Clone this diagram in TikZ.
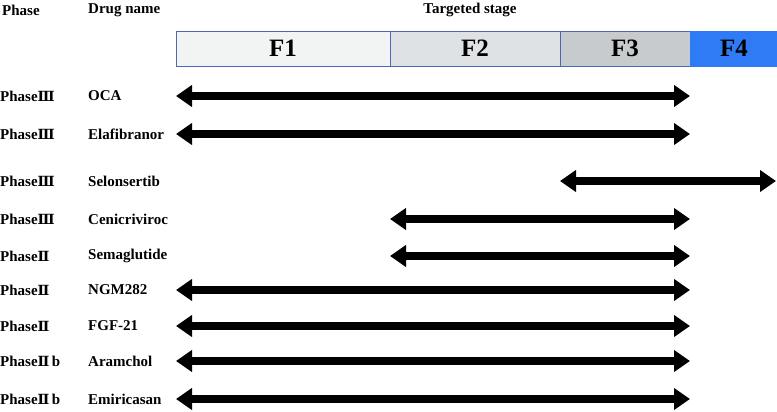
\documentclass[tikz,border=0pt]{standalone}
\usepackage{fontspec}
\setmainfont{Liberation Serif}
\newfontfamily\numfont{DejaVu Serif}
\usetikzlibrary{arrows.meta,positioning}
\definecolor{sOne}{HTML}{F2F3F3}
\definecolor{sTwo}{HTML}{DFE2E4}
\definecolor{sThree}{HTML}{C8CBCD}
\definecolor{sFour}{HTML}{2F7BF5}
\definecolor{sEdge}{HTML}{4A67B8}
\tikzset{stage/.style={draw=sEdge, line width=0.8pt, minimum height=35pt,
  inner sep=0pt, font=\fontsize{25}{27}\selectfont\bfseries}}
\tikzset{lbl/.style={anchor=west, inner sep=0pt, font=\fontsize{15}{17}\selectfont\bfseries}}
\tikzset{span/.style={line width=8pt, {Triangle[length=16pt,width=21pt]}-{Triangle[length=16pt,width=21pt]}}}
\newcommand{\three}{{\numfont\fontsize{14}{15}\selectfont Ⅲ}}
\newcommand{\two}{{\numfont\fontsize{14}{15}\selectfont Ⅱ}}
\begin{document}
\begin{tikzpicture}[x=1pt,y=-1pt]
    \useasboundingbox (0,0) rectangle (777,412);
    %% header
    \node (hp) at (2,10) [lbl] {Phase};
    \node (hd) at (88,10) [lbl] {Drug name};
    \node (ht) at (470,10) [lbl, anchor=center] {Targeted stage};
    \node (F1) at (283,48.5) [stage, fill=sOne, minimum width=214pt] {F1};
    \node (F2) at (475,48.5) [stage, fill=sTwo, minimum width=170pt] {F2};
    \node (F3) at (625,48.5) [stage, fill=sThree, minimum width=130pt] {F3};
    \node (F4) at (734,48.5) [stage, fill=sFour, draw=sFour, minimum width=88pt] {F4};
    %% rows
    \foreach \y/\ph/\dr/\a/\b [count=\i] in {
        96/\three/OCA/176/690,
        134/\three/Elafibranor/176/690,
        181/\three/Selonsertib/560/776,
        219/\three/Cenicriviroc/390/690,
        256/\two/Semaglutide/390/690,
        290/\two/NGM282/176/690,
        326/\two/FGF-21/176/690,
        361/\two\,b/Aramchol/176/690,
        399/\two\,b/Emiricasan/176/690} {
        \node (p\i) at (0,\y) [lbl] {Phase\ph};
        \node (d\i) at (88,\y) [lbl] {\dr};
        \coordinate (s\i) at (\a,\y);
        \coordinate (e\i) at (\b,\y);
        \draw [span] (s\i) -- (e\i);
    }
\end{tikzpicture}
\end{document}
